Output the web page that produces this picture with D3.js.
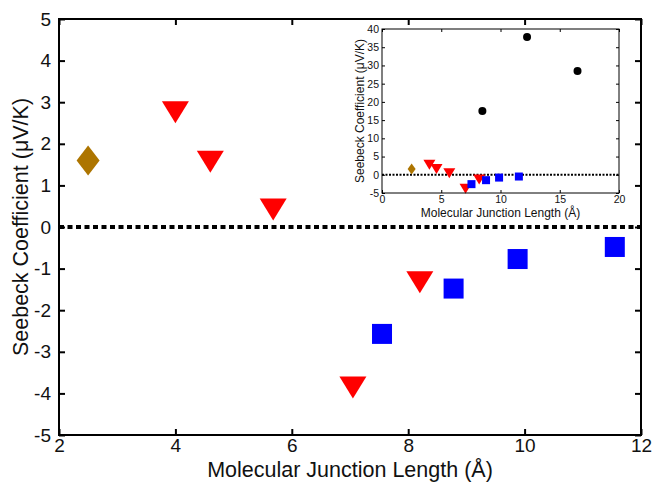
<!DOCTYPE html>
<html>
<head>
<meta charset="utf-8">
<script src="https://cdn.jsdelivr.net/npm/d3@7"></script>
<style>
  body { margin: 0; background: #fff; }
  text { font-family: "Liberation Sans", Arial, sans-serif; fill: #111; }
</style>
</head>
<body>
<div id="chart"></div>
<script>
// data
const diamondX = [2.5];
const diamondY = [1.6];
const triX = [4.0, 4.6, 5.68, 7.05, 8.2];
const triY = [2.76, 1.57, 0.42, -3.86, -1.33];
const sqX = [7.55, 8.78, 9.88, 11.55];
const sqY = [-2.57, -1.48, -0.77, -0.48];
const circX = [8.47, 12.24, 16.5];
const circY = [17.5, 37.8, 28.5];

const mainXTicks = [2, 4, 6, 8, 10, 12];
const mainYTicks = [-5, -4, -3, -2, -1, 0, 1, 2, 3, 4, 5];
const insetXTicks = [0, 5, 10, 15, 20];
const insetYTicks = [-5, 0, 5, 10, 15, 20, 25, 30, 35, 40];

const xTitle = "Molecular Junction Length (\u00C5)";
const yTitle = "Seebeck Coefficient (\u03BCV/K)";

const width = 652, height = 483;

const svg = d3.select('#chart')
  .append('svg')
  .attr('width', width)
  .attr('height', height);

const diamonds = diamondX.map((x, i) => ({x: x, y: diamondY[i]}));
const tris = triX.map((x, i) => ({x: x, y: triY[i]}));
const squares = sqX.map((x, i) => ({x: x, y: sqY[i]}));
const circles = circX.map((x, i) => ({x: x, y: circY[i]}));

const fmt = d => String(d);  // plain hyphen minus like the original

function drawPanel(g, opt) {
  const x = d3.scaleLinear().domain(opt.xDomain).range([opt.left, opt.right]);
  const y = d3.scaleLinear().domain(opt.yDomain).range([opt.bottom, opt.top]);

  g.append('rect')
    .attr('x', opt.left).attr('y', opt.top)
    .attr('width', opt.right - opt.left).attr('height', opt.bottom - opt.top)
    .attr('fill', '#fff');

  // zero line
  g.append('line')
    .attr('x1', x(opt.xDomain[0])).attr('x2', x(opt.xDomain[1]))
    .attr('y1', y(0)).attr('y2', y(0))
    .attr('stroke', '#000')
    .attr('stroke-width', opt.dashW)
    .attr('stroke-dasharray', opt.dash);

  // markers
  const s = opt.mk;
  g.selectAll('.dia').data(diamonds).enter().append('path')
    .attr('transform', d => `translate(${x(d.x)},${y(d.y)})`)
    .attr('d', `M0,${-s.dh}L${s.dw},0L0,${s.dh}L${-s.dw},0Z`)
    .attr('fill', '#ad7500');
  g.selectAll('.tri').data(tris).enter().append('path')
    .attr('transform', d => `translate(${x(d.x)},${y(d.y)})`)
    .attr('d', `M${-s.tw},${-s.th}L${s.tw},${-s.th}L0,${s.th}Z`)
    .attr('fill', '#ff0000');
  g.selectAll('.sq').data(squares).enter().append('rect')
    .attr('x', d => x(d.x) - s.sq).attr('y', d => y(d.y) - s.sq)
    .attr('width', 2 * s.sq).attr('height', 2 * s.sq)
    .attr('fill', '#0000ff');
  if (opt.circles) {
    g.selectAll('.circ').data(circles).enter().append('circle')
      .attr('cx', d => x(d.x)).attr('cy', d => y(d.y))
      .attr('r', s.r)
      .attr('fill', '#000');
  }

  // axes with inward ticks
  const tl = opt.tick;
  g.append('g')
    .attr('transform', `translate(0,${opt.bottom})`)
    .call(d3.axisBottom(x).tickValues(opt.xTicks).tickFormat(fmt).tickSizeInner(-tl).tickSizeOuter(0).tickPadding(opt.padX + tl))
    .call(a => a.select('.domain').remove());
  g.append('g')
    .attr('transform', `translate(0,${opt.top})`)
    .call(d3.axisTop(x).tickValues(opt.xTicks).tickSizeInner(-tl).tickSizeOuter(0).tickFormat(''))
    .call(a => a.select('.domain').remove());
  g.append('g')
    .attr('transform', `translate(${opt.left},0)`)
    .call(d3.axisLeft(y).tickValues(opt.yTicks).tickFormat(fmt).tickSizeInner(-tl).tickSizeOuter(0).tickPadding(opt.padY + tl))
    .call(a => a.select('.domain').remove());
  g.append('g')
    .attr('transform', `translate(${opt.right},0)`)
    .call(d3.axisRight(y).tickValues(opt.yTicks).tickSizeInner(-tl).tickSizeOuter(0).tickFormat(''))
    .call(a => a.select('.domain').remove());

  g.selectAll('.tick line').attr('stroke', '#000').attr('stroke-width', opt.lw);
  g.selectAll('.tick text')
    .style('font-family', '"Liberation Sans", Arial, sans-serif')
    .attr('font-size', opt.fs)
    .attr('fill', '#111');

  g.append('rect')
    .attr('x', opt.left).attr('y', opt.top)
    .attr('width', opt.right - opt.left).attr('height', opt.bottom - opt.top)
    .attr('fill', 'none')
    .attr('stroke', '#000')
    .attr('stroke-width', opt.lw);

  g.append('text')
    .attr('x', (opt.left + opt.right) / 2)
    .attr('y', opt.xTitleY)
    .attr('text-anchor', 'middle')
    .attr('font-size', opt.tfs)
    .text(xTitle);
  g.append('text')
    .attr('transform', `translate(${opt.yTitleX},${(opt.top + opt.bottom) / 2}) rotate(-90)`)
    .attr('text-anchor', 'middle')
    .attr('font-size', opt.tfs)
    .text(yTitle);
}

drawPanel(svg.append('g'), {
  xDomain: [2, 12], yDomain: [-5, 5],
  left: 59, right: 641, top: 19, bottom: 435,
  xTicks: mainXTicks, yTicks: mainYTicks,
  tick: 6, padX: -2, padY: 2, lw: 2, fs: 19, tfs: 21.5,
  dash: '5,3.5', dashW: 4,
  xTitleY: 477, yTitleX: 28,
  mk: {dw: 11.5, dh: 15, tw: 13.5, th: 11, sq: 10, r: 4},
  circles: false
});

drawPanel(svg.append('g'), {
  xDomain: [0, 20], yDomain: [-5, 40],
  left: 382, right: 619, top: 29, bottom: 193,
  xTicks: insetXTicks, yTicks: insetYTicks,
  tick: 3, padX: 0, padY: 0, lw: 1, fs: 10.5, tfs: 12,
  dash: '2,1.5', dashW: 2,
  xTitleY: 217, yTitleX: 364,
  mk: {dw: 4, dh: 5.5, tw: 6, th: 5, sq: 4, r: 4},
  circles: true
});
</script>
</body>
</html>
